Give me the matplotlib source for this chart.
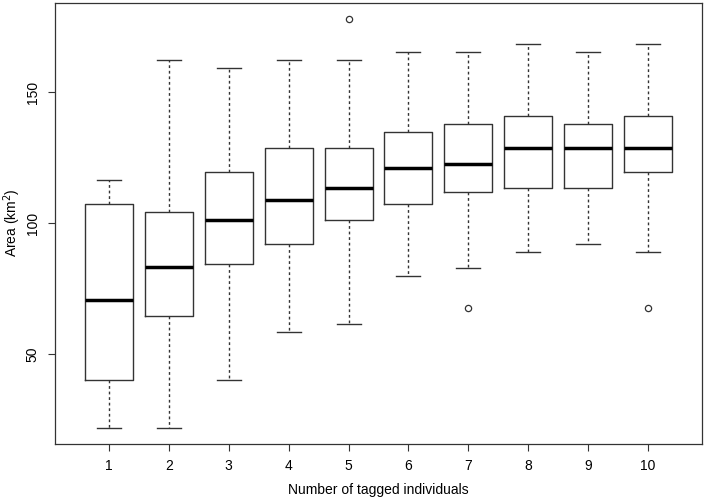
import matplotlib
matplotlib.use("Agg")
import matplotlib.pyplot as plt

categories = ["1", "2", "3", "4", "5", "6", "7", "8", "9", "10"]
whisker_low = [21.6, 21.6, 40.1, 58.4, 61.5, 79.9, 82.8, 89.0, 92.0, 89.0]
q1 = [40.1, 64.5, 84.4, 92.0, 101.1, 107.4, 111.8, 113.4, 113.4, 119.5]
median = [70.6, 83.0, 101.1, 108.8, 113.4, 121.1, 122.6, 128.7, 128.7, 128.7]
q3 = [107.3, 104.3, 119.5, 128.7, 128.7, 134.8, 137.9, 141.0, 137.9, 141.0]
whisker_high = [116.4, 162.2, 159.3, 162.2, 162.2, 165.4, 165.4, 168.4, 165.4, 168.4]
outliers = [[], [], [], [], [177.7], [], [67.4], [], [], [67.4]]

plt.rcParams['font.family'] = ['Liberation Sans', 'DejaVu Sans']

W, H = 706, 501
fig = plt.figure(figsize=(W/100, H/100), dpi=100)
ax = fig.add_axes([55/W, 1-444/H, (702-55)/W, (444-3)/H])

stats = []
for i in range(len(categories)):
    stats.append(dict(whislo=whisker_low[i], q1=q1[i], med=median[i], q3=q3[i],
                      whishi=whisker_high[i], fliers=outliers[i], label=categories[i]))

lc = '#333333'
ax.bxp(stats, positions=range(1, 11), widths=0.8, capwidths=0.4,
       boxprops=dict(color=lc, linewidth=1.0),
       medianprops=dict(color='black', linewidth=2.5, solid_capstyle='butt'),
       whiskerprops=dict(color=lc, linewidth=1.0, linestyle=(0, (2, 2))),
       capprops=dict(color=lc, linewidth=1.0),
       flierprops=dict(marker='o', markersize=4.5, markerfacecolor='none',
                       markeredgecolor=lc, markeredgewidth=0.9))

ax.set_xlim(0.1, 10.9)
ax.set_ylim(15.6, 184)
ax.set_yticks([50, 100, 150])
ax.set_yticklabels(["50", "100", "150"], rotation=90, va='center')
ax.tick_params(axis='both', direction='out', length=5, width=0.8, color=lc,
               labelsize=10, pad=6)
for s in ax.spines.values():
    s.set_color(lc)
    s.set_linewidth(0.9)

fig.text((55+702)/2/W, 1-490/H, "Number of tagged individuals", fontsize=10,
         ha='center', va='center')
fig.text(12/W, 1-223/H, "Area (km$^2$)", fontsize=10, rotation=90,
         ha='center', va='center')

fig.savefig("out.png", dpi=100)
